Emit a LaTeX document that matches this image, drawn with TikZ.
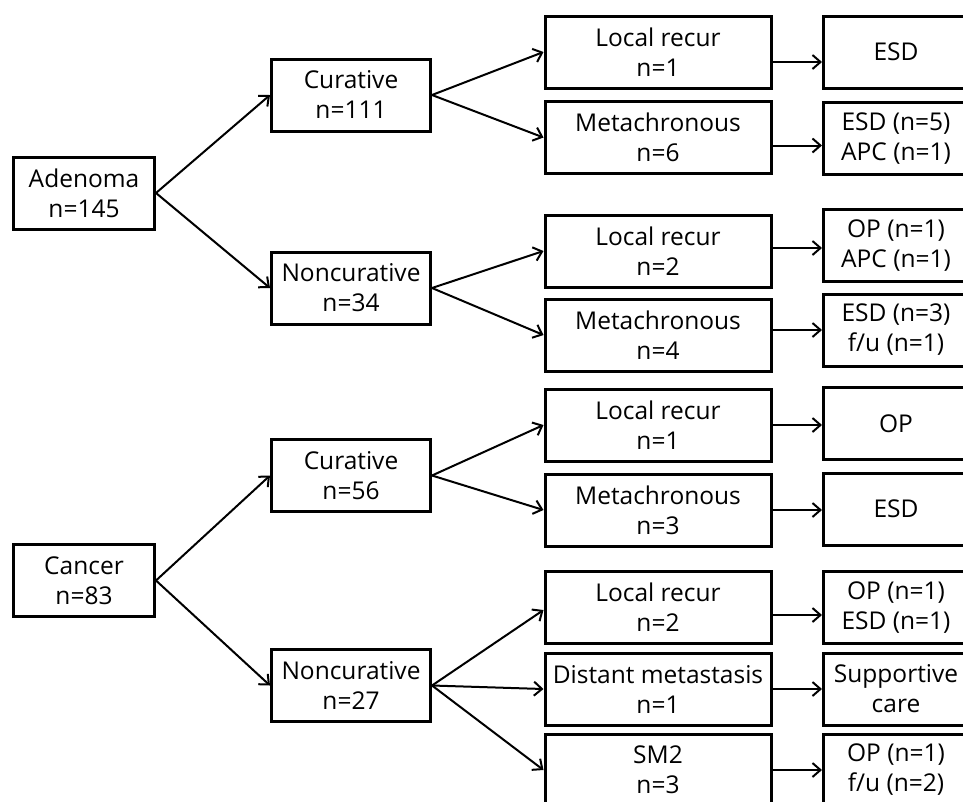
\documentclass[tikz,border=0pt]{standalone}
\usepackage{fontspec}
\setmainfont{Open Sans}
\usetikzlibrary{arrows.meta}

\begin{document}
\begin{tikzpicture}[x=1pt,y=-1pt,
  box/.style={draw,line width=3pt,align=center,inner sep=0pt,
    minimum height=72pt,font=\fontsize{24.5}{30}\selectfont},
  rootbox/.style={box,minimum width=141pt},
  cutbox/.style={box,minimum width=159pt},
  evbox/.style={box,minimum width=226pt},
  txbox/.style={box,minimum width=145pt},
  arr/.style={line width=2pt,-{Straight Barb[length=8pt,width=14pt]}}]
\useasboundingbox (0,0) rectangle (963,801);
\clip (0,0) rectangle (963,801);
% Column centres
\def\xa{84}
\def\xb{351}
\def\xc{658}
\def\xd{896}

% Adenoma tree
\node[rootbox] (ade) at (\xa,193) {Adenoma\\n=145};
\node[cutbox] (cur1) at (\xb,95) {Curative\\n=111};
\node[cutbox] (non1) at (\xb,288) {Noncurative\\n=34};
\node[evbox] (lr1) at (\xc,52) {Local recur\\n=1};
\node[evbox] (mc1) at (\xc,137.5) {Metachronous\\n=6};
\node[evbox] (lr2) at (\xc,251) {Local recur\\n=2};
\node[evbox] (mc2) at (\xc,335) {Metachronous\\n=4};
\node[txbox] (e1) at (\xd,52) {ESD};
\node[txbox] (e2) at (\xd,138.5) {ESD (n=5)\\APC (n=1)};
\node[txbox] (e3) at (\xd,245.5) {OP (n=1)\\APC (n=1)};
\node[txbox] (e4) at (\xd,330) {ESD (n=3)\\f/u (n=1)};

% Cancer tree
\node[rootbox] (can) at (\xa,580.5) {Cancer\\n=83};
\node[cutbox] (cur2) at (\xb,475.5) {Curative\\n=56};
\node[cutbox] (non2) at (\xb,685.5) {Noncurative\\n=27};
\node[evbox] (lr3) at (\xc,425) {Local recur\\n=1};
\node[evbox] (mc3) at (\xc,510) {Metachronous\\n=3};
\node[evbox] (lr4) at (\xc,607) {Local recur\\n=2};
\node[evbox] (dm) at (\xc,689) {Distant metastasis\\n=1};
\node[evbox] (sm2) at (\xc,770) {SM2\\n=3};
\node[txbox] (e5) at (\xd,423.5) {OP};
\node[txbox] (e6) at (\xd,509) {ESD};
\node[txbox] (e7) at (\xd,607.5) {OP (n=1)\\ESD (n=1)};
\node[txbox] (e8) at (\xd,689) {Supportive\\care};
\node[txbox] (e9) at (\xd,770) {OP (n=1)\\f/u (n=2)};

% Branches
\draw[arr] (ade.east) -- (cur1.west);
\draw[arr] (ade.east) -- (non1.west);
\draw[arr] (cur1.east) -- (lr1.west);
\draw[arr] (cur1.east) -- (mc1.west);
\draw[arr] (non1.east) -- (lr2.west);
\draw[arr] (non1.east) -- (mc2.west);
\draw[arr] (can.east) -- (cur2.west);
\draw[arr] (can.east) -- (non2.west);
\draw[arr] (cur2.east) -- (lr3.west);
\draw[arr] (cur2.east) -- (mc3.west);
\draw[arr] (non2.east) -- ([yshift=-3pt]lr4.west);
\draw[arr] (non2.east) -- (dm.west);
\draw[arr] (non2.east) -- (sm2.west);

% Treatments
\draw[arr] ([yshift=-10pt]lr1.east) -- ([yshift=-10pt]lr1.east -| e1.west);
\draw[arr] ([yshift=-8pt]mc1.east) -- ([yshift=-8pt]mc1.east -| e2.west);
\draw[arr] ([yshift=3pt]lr2.east) -- ([yshift=3pt]lr2.east -| e3.west);
\draw[arr] ([yshift=5pt]mc2.east) -- ([yshift=5pt]mc2.east -| e4.west);
\draw[arr] (lr3.east) -- (lr3.east -| e5.west);
\draw[arr] (mc3.east) -- (mc3.east -| e6.west);
\draw[arr] ([yshift=-8pt]lr4.east) -- ([yshift=-8pt]lr4.east -| e7.west);
\draw[arr] (dm.east) -- (dm.east -| e8.west);
\draw[arr] (sm2.east) -- (sm2.east -| e9.west);
\end{tikzpicture}
\end{document}
